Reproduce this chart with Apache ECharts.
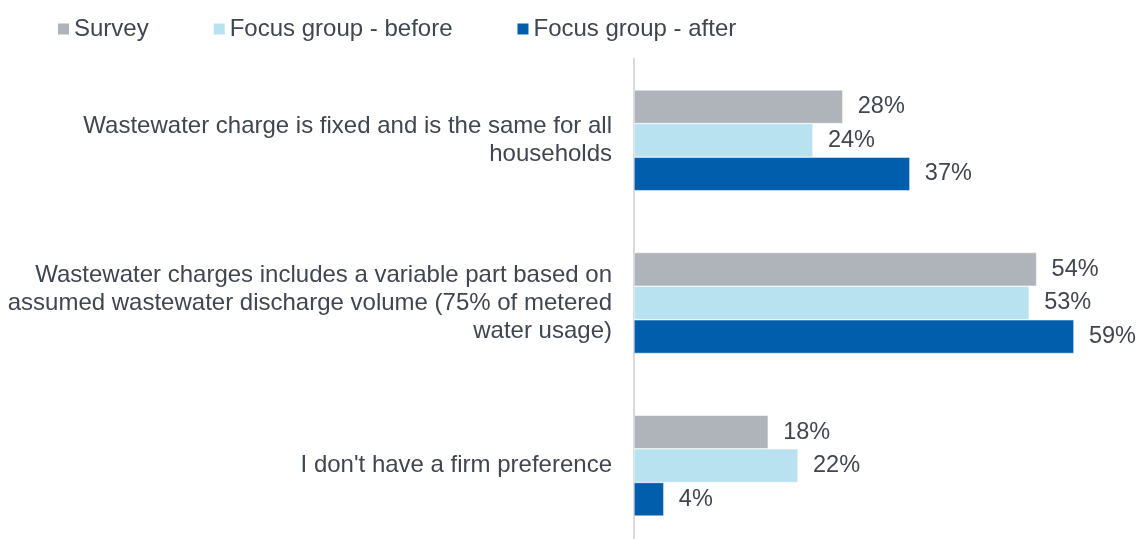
<!DOCTYPE html>
<html>
<head>
<meta charset="utf-8">
<script src="https://cdn.jsdelivr.net/npm/echarts@6/dist/echarts.min.js"></script>
<style>
html,body{margin:0;padding:0;background:#fff;overflow:hidden;}
#chart{width:1141px;height:547px;}
</style>
</head>
<body>
<div id="chart"></div>
<script>
const categories = [
  "Wastewater charge is fixed and is the same for all\nhouseholds",
  "Wastewater charges includes a variable part based on\nassumed wastewater discharge volume (75% of metered\nwater usage)",
  "I don't have a firm preference"
];
const seriesNames = ["Survey", "Focus group - before", "Focus group - after"];
const survey = [28, 54, 18];
const focusBefore = [24, 53, 22];
const focusAfter = [37, 59, 4];
const colors = ["#AEB4BA", "#B8E2EF", "#005EAC"];

const chart = echarts.init(document.getElementById('chart'), null, {renderer: 'canvas'});
const textColor = '#404650';
const fontFamily = '"Liberation Sans", Arial, sans-serif';

function mkSeries(name, data, color) {
  return {
    name: name,
    type: 'bar',
    data: data,
    barGap: '0%',
    barCategoryGap: '38%',
    itemStyle: {color: color, borderColor: '#fff', borderWidth: 0.5},
    label: {
      show: true,
      position: 'right',
      distance: 15,
      formatter: '{c}%',
      color: textColor,
      fontSize: 23.5,
      fontFamily: fontFamily
    },
    emphasis: {disabled: true},
    animation: false
  };
}

chart.setOption({
  animation: false,
  color: colors,
  legend: {
    data: seriesNames,
    left: 51,
    top: 12,
    itemWidth: 13,
    itemHeight: 13,
    itemGap: 63,
    icon: 'rect',
    textStyle: {color: textColor, fontSize: 24, fontFamily: fontFamily, padding: [0,0,0,-1]},
    selectedMode: false
  },
  grid: {left: 634, right: 0, top: 59, bottom: 0, containLabel: false},
  xAxis: {
    type: 'value',
    min: 0,
    max: 68,
    show: false
  },
  yAxis: {
    type: 'category',
    data: categories,
    inverse: true,
    axisLine: {show: true, lineStyle: {color: '#D9D9D9', width: 2}},
    axisTick: {show: false},
    axisLabel: {
      color: textColor,
      fontSize: 24,
      fontFamily: fontFamily,
      lineHeight: 28,
      margin: 22,
      align: 'right'
    }
  },
  series: [
    mkSeries(seriesNames[0], survey, colors[0]),
    mkSeries(seriesNames[1], focusBefore, colors[1]),
    mkSeries(seriesNames[2], focusAfter, colors[2])
  ]
});
</script>
</body>
</html>
